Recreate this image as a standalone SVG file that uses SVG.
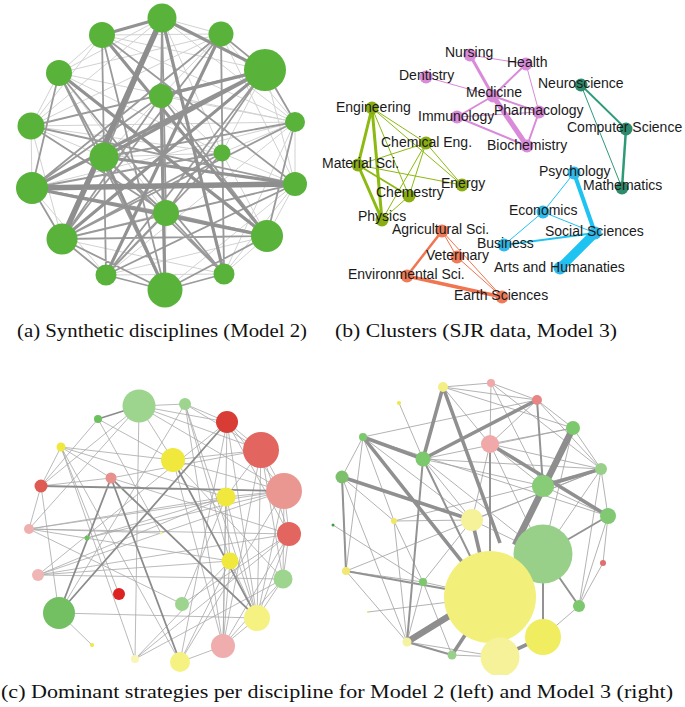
<svg xmlns="http://www.w3.org/2000/svg" width="685" height="707" viewBox="0 0 685 707">
<style>
.bg{fill:#fff}
.t1{stroke:#d2d2d2;stroke-width:1;fill:none}
.t2{stroke:#9a9a9a;stroke-width:1.8;fill:none}
.t3{stroke:#929292;stroke-width:3.2;fill:none}
.t4{stroke:#8e8e8e;stroke-width:5.5;fill:none}
.gn{fill:#59b33b}
.lb{font-family:"Liberation Sans",Arial,sans-serif;font-size:14px;fill:#1a1a1a}
.cap{font-family:"Liberation Serif","Times New Roman",serif;font-size:18.5px;fill:#111}
.pk{stroke:#d98ad8;fill:none}
.tl{stroke:#2e9a78;fill:none}
.yg{stroke:#8cba10;fill:none}
.cy{stroke:#1ec3f2;fill:none}
.or{stroke:#f07550;fill:none}
.e1{stroke:#a8a8a8;stroke-width:0.8;fill:none}
.e2{stroke:#8c8c8c;stroke-width:1.8;fill:none}
.r1{stroke:#a0a0a0;stroke-width:0.8;fill:none}
.r2{stroke:#939393;stroke-width:2;fill:none}
.r3{stroke:#909090;stroke-width:3.6;fill:none}
.r4{stroke:#8e8e8e;stroke-width:6.5;fill:none}
</style>
<defs>
<clipPath id="clipR"><rect x="320" y="370" width="365" height="305"/></clipPath>
</defs>
<rect class="bg" x="0" y="0" width="685" height="707"/>

<!-- (a) synthetic disciplines -->
<g id="a-edges">
<path class="t1" d="M162,18L221,34M162,18L59,73M162,18L31,126M162,18L295,122M162,18L222,153M102,35L221,34M102,35L265,70M102,35L31,126M102,35L295,122M221,34L59,73M221,34L161,96M221,34L31,126M221,34L295,122M221,34L222,153M221,34L295,184M265,70L222,153M265,70L295,184M59,73L31,126M59,73L295,122M59,73L222,153M161,96L295,122M161,96L222,153M161,96L104,157M31,126L295,122M31,126L104,157M31,126L222,153M295,122L295,184M295,122L32,188M295,122L222,153M295,122L106,275M295,122L224,274M104,157L222,153M222,153L295,184M222,153L267,236M222,153L224,274M32,188L106,275M295,184L224,274M295,184L165,290M166,213L62,239M166,213L165,290M62,239L224,274M267,236L106,275M106,275L224,274M31,126L62,239M59,73L166,213M102,35L59,73M31,126L32,188M267,236L224,274M295,184L267,236"/>
<path class="t2" d="M162,18L161,96M162,18L104,157M162,18L166,213M102,35L104,157M102,35L295,184M102,35L165,290M221,34L265,70M221,34L32,188M221,34L62,239M221,34L224,274M265,70L295,122M265,70L31,126M265,70L166,213M265,70L106,275M59,73L104,157M59,73L32,188M59,73L165,290M59,73L224,274M161,96L62,239M161,96L267,236M161,96L32,188M31,126L166,213M31,126L295,184M295,122L62,239M295,122L104,157M104,157L166,213M104,157L106,275M104,157L224,274M222,153L62,239M222,153L106,275M222,153L32,188M32,188L62,239M32,188L166,213M295,184L62,239M295,184L106,275M166,213L267,236M166,213L224,274M62,239L106,275M62,239L165,290M62,239L267,236M224,274L165,290M267,236L165,290M106,275L165,290M106,275L166,213M267,236L295,122"/>
<path class="t3" d="M162,18L265,70M162,18L102,35M161,96L165,290M104,157L165,290M265,70L62,239M162,18L224,274M59,73L267,236M265,70L32,188M102,35L267,236M104,157L295,184M265,70L161,96M221,34L106,275M265,70L104,157M32,188L267,236"/>
<path class="t4" d="M32,188L295,184M162,18L62,239"/>
</g>
<g id="a-nodes">
<circle class="gn" cx="162" cy="18" r="14.5"/>
<circle class="gn" cx="102" cy="35" r="13"/>
<circle class="gn" cx="221" cy="34" r="12.5"/>
<circle class="gn" cx="265" cy="70" r="21"/>
<circle class="gn" cx="59" cy="73" r="13"/>
<circle class="gn" cx="161" cy="96" r="12"/>
<circle class="gn" cx="31" cy="126" r="13.5"/>
<circle class="gn" cx="295" cy="122" r="10"/>
<circle class="gn" cx="104" cy="157" r="14.5"/>
<circle class="gn" cx="222" cy="153" r="8.5"/>
<circle class="gn" cx="32" cy="188" r="16"/>
<circle class="gn" cx="295" cy="184" r="12"/>
<circle class="gn" cx="166" cy="213" r="13"/>
<circle class="gn" cx="62" cy="239" r="15.5"/>
<circle class="gn" cx="267" cy="236" r="16"/>
<circle class="gn" cx="106" cy="275" r="10.5"/>
<circle class="gn" cx="224" cy="274" r="10.5"/>
<circle class="gn" cx="165" cy="290" r="17.5"/>
</g>

<!-- (b) clusters -->
<g id="b-edges">
<path class="pk" stroke-width="1" d="M470,55L526,64M426,77L493,96M526,64L539,112M457,117L539,112"/>
<path class="pk" stroke-width="2" d="M526,64L493,96M493,96L457,117M493,96L539,112M457,117L527,146M539,112L527,146"/>
<path class="pk" stroke-width="3" d="M470,55L493,96"/>
<path class="pk" stroke-width="5" d="M493,96L527,146"/>
<path class="tl" stroke-width="1" d="M581,85L622,188"/>
<path class="tl" stroke-width="1.8" d="M581,85L626,129"/>
<path class="tl" stroke-width="2.5" d="M626,129L622,188"/>
<path class="yg" stroke-width="1" d="M372,108L426,143M372,108L462,185M426,143L358,165M426,143L462,185M426,143L409,196M426,143L382,220M409,196L382,220M358,165L462,185M372,108L409,196"/>
<path class="yg" stroke-width="1.8" d="M358,165L409,196"/>
<path class="yg" stroke-width="3" d="M372,108L358,165M372,108L382,220M358,165L382,220"/>
<path class="cy" stroke-width="1" d="M574,173L543,212M543,212L504,245M543,212L595,233"/>
<path class="cy" stroke-width="2" d="M504,245L595,233"/>
<path class="cy" stroke-width="4" d="M574,173L595,233"/>
<path class="cy" stroke-width="9" d="M595,233L560,268"/>
<path class="or" stroke-width="1" d="M442,231L457,257M442,231L502,297M457,257L502,297"/>
<path class="or" stroke-width="2.5" d="M442,231L407,276"/>
<path class="or" stroke-width="3.5" d="M407,276L502,297"/>
</g>
<g id="b-nodes">
<g fill="#d98ad8">
<circle cx="470" cy="55" r="6.5"/><circle cx="526" cy="64" r="6.5"/><circle cx="426" cy="77" r="6.5"/><circle cx="493" cy="96" r="6.5"/><circle cx="539" cy="112" r="6.5"/><circle cx="457" cy="117" r="6.5"/><circle cx="527" cy="146" r="6.5"/>
</g>
<g fill="#2e8a6c">
<circle cx="581" cy="85" r="6.5"/><circle cx="626" cy="129" r="6.5"/><circle cx="622" cy="188" r="6.5"/>
</g>
<g fill="#8aad12">
<circle cx="372" cy="108" r="6.5"/><circle cx="426" cy="143" r="6.5"/><circle cx="358" cy="165" r="6.5"/><circle cx="462" cy="185" r="6.5"/><circle cx="409" cy="196" r="6.5"/><circle cx="382" cy="220" r="6.5"/>
</g>
<g fill="#2fb8ea">
<circle cx="574" cy="173" r="6.5"/><circle cx="543" cy="212" r="6.5"/><circle cx="595" cy="233" r="6.5"/><circle cx="504" cy="245" r="6.5"/><circle cx="560" cy="268" r="6.5"/>
</g>
<g fill="#f07a58">
<circle cx="442" cy="231" r="6.5"/><circle cx="457" cy="257" r="6.5"/><circle cx="407" cy="276" r="6.5"/><circle cx="502" cy="297" r="6.5"/>
</g>
</g>
<g id="b-labels">
<text class="lb" x="445" y="57">Nursing</text>
<text class="lb" x="507" y="67">Health</text>
<text class="lb" x="399" y="80">Dentistry</text>
<text class="lb" x="466" y="97">Medicine</text>
<text class="lb" x="538" y="88">Neuroscience</text>
<text class="lb" x="494" y="115">Pharmacology</text>
<text class="lb" x="418" y="121">Immunology</text>
<text class="lb" x="336" y="112">Engineering</text>
<text class="lb" x="567" y="132">Computer Science</text>
<text class="lb" x="487" y="150">Biochemistry</text>
<text class="lb" x="381" y="147">Chemical Eng.</text>
<text class="lb" x="322" y="168">Material Sci.</text>
<text class="lb" x="539" y="176">Psychology</text>
<text class="lb" x="583" y="190">Mathematics</text>
<text class="lb" x="441" y="188">Energy</text>
<text class="lb" x="376" y="197">Chemestry</text>
<text class="lb" x="509" y="215">Economics</text>
<text class="lb" x="358" y="221">Physics</text>
<text class="lb" x="392" y="234">Agricultural Sci.</text>
<text class="lb" x="545" y="236">Social Sciences</text>
<text class="lb" x="477" y="248">Business</text>
<text class="lb" x="426" y="260">Veterinary</text>
<text class="lb" x="494" y="272">Arts and Humanaties</text>
<text class="lb" x="348" y="279">Environmental Sci.</text>
<text class="lb" x="454" y="300">Earth Sciences</text>
</g>

<text class="cap" x="17" y="337" textLength="290" lengthAdjust="spacingAndGlyphs">(a) Synthetic disciplines (Model 2)</text>
<text class="cap" x="335" y="337" textLength="282" lengthAdjust="spacingAndGlyphs">(b) Clusters (SJR data, Model 3)</text>

<!-- (c) left -->
<g id="cl-edges">
<path class="e1" d="M139,406L185,404M139,406L227,422M139,406L261,450M139,406L173,460M139,406L41,486M139,406L135,659M139,406L284,491M185,404L227,422M185,404L261,450M185,404L230,561M185,404L223,646M185,404L257,618M98,419L173,460M227,422L261,450M227,422L223,646M227,422L257,618M227,422L289,534M227,422L284,491M227,422L38,575M227,422L180,662M261,450L284,491M261,450L289,534M261,450L283,579M261,450L226,497M261,450L173,460M261,450L257,618M261,450L223,646M61,447L111,478M61,447L41,486M61,447L119,594M61,447L173,460M61,447L180,662M61,447L226,497M61,447L135,659M173,460L283,579M173,460L223,646M173,460L284,491M111,478L41,486M111,478L289,534M111,478L261,450M41,486L59,613M41,486L29,529M41,486L98,419M284,491L38,575M284,491L29,529M284,491L289,534M284,491L283,579M284,491L180,662M284,491L257,618M284,491L226,497M226,497L223,646M226,497L29,529M226,497L230,561M226,497L182,604M226,497L257,618M29,529L161,533M29,529L289,534M29,529L182,604M29,529L230,561M289,534L38,575M289,534L283,579M289,534L257,618M289,534L135,659M289,534L182,604M87,538L226,497M87,538L284,491M230,561L223,646M230,561L180,662M230,561L257,618M230,561L38,575M230,561L135,659M38,575L283,579M38,575L226,497M283,579L257,618M283,579L223,646M59,613L92,645M59,613L257,618M257,618L223,646M223,646L180,662M98,419L161,533M185,404L59,613M139,406L29,529M283,579L135,659M289,534L223,646"/>
<path class="e2" d="M41,486L284,491M111,478L257,618M173,460L257,618M227,422L59,613M98,419L139,406M111,478L180,662M111,478L59,613"/>
</g>
<g id="cl-nodes">
<circle cx="139" cy="406" r="16.5" fill="#9dd48e"/>
<circle cx="185" cy="404" r="6" fill="#9dd48e"/>
<circle cx="98" cy="419" r="4" fill="#6cc05e"/>
<circle cx="227" cy="422" r="11" fill="#d93c34"/>
<circle cx="261" cy="450" r="18" fill="#e2655f"/>
<circle cx="61" cy="447" r="4.5" fill="#f0e83c"/>
<circle cx="173" cy="460" r="12" fill="#f0e83c"/>
<circle cx="111" cy="478" r="5.5" fill="#e8908c"/>
<circle cx="41" cy="486" r="6.5" fill="#df5a52"/>
<circle cx="284" cy="491" r="18" fill="#ea9792"/>
<circle cx="226" cy="497" r="9.5" fill="#f0e83c"/>
<circle cx="29" cy="529" r="5" fill="#f0afaf"/>
<circle cx="161" cy="533" r="1.5" fill="#f5f2a0"/>
<circle cx="289" cy="534" r="12" fill="#e2655f"/>
<circle cx="87" cy="538" r="2.5" fill="#6cc05e"/>
<circle cx="230" cy="561" r="8.5" fill="#f0e83c"/>
<circle cx="38" cy="575" r="6" fill="#f0b5b5"/>
<circle cx="283" cy="579" r="9.5" fill="#9dd48e"/>
<circle cx="119" cy="594" r="6" fill="#dd2222"/>
<circle cx="182" cy="604" r="7" fill="#9dd48e"/>
<circle cx="59" cy="613" r="16" fill="#72c062"/>
<circle cx="257" cy="618" r="13" fill="#f5f282"/>
<circle cx="92" cy="645" r="2" fill="#f0e83c"/>
<circle cx="223" cy="646" r="12" fill="#f0adad"/>
<circle cx="135" cy="659" r="4" fill="#f8f5b5"/>
<circle cx="180" cy="662" r="10" fill="#f5f282"/>
</g>

<!-- (c) right -->
<g clip-path="url(#clipR)">
<g id="cr-edges">
<path class="r1" d="M443,387L491,383M443,387L537,400M491,383L537,400M491,383L543,486M491,383L601,469M537,400L573,428M537,400L601,469M537,400L490,444M399,403L423,459M363,437L423,459M363,437L342,477M363,437L394,521M363,437L472,520M363,437L346,571M573,428L490,444M573,428L601,469M573,428L423,459M490,444L601,469M490,444L472,520M490,444L543,486M490,444L543,554M423,459L601,469M423,459L472,520M423,459L543,486M601,469L608,516M601,469L472,520M601,469L543,554M342,477L394,521M342,477L346,571M342,477L472,520M342,477L407,642M543,486L608,516M608,516L603,563M608,516L579,606M394,521L472,520M472,520L423,582M394,521L423,582M394,521L407,642M333,525L423,582M603,563L579,606M346,571L423,582M346,571L407,642M423,582L490,597M423,582L407,642M423,582L452,655M579,606L543,637M579,606L601,469M368,612L490,597M407,642L500,657M452,655L500,657M423,459L543,554M573,428L543,554M443,387L490,444M491,383L490,444M472,520L543,554M394,521L601,469M346,571L601,469M363,437L608,516M443,387L573,428M537,400L363,437"/>
<path class="r2" d="M423,459L490,597M423,459L407,642M407,642L452,655M579,606L543,554M608,516L543,554M543,554L543,637M490,444L490,597M537,400L543,486M346,571L490,597M363,437L363,437M342,477L346,571"/>
<path class="r3" d="M443,387L423,459M443,387L500,543M537,400L423,459M363,437L490,597M342,477L472,520M472,520L490,597M490,444L608,516M543,486L601,469M452,655L490,597M500,657L543,637M363,437L423,459"/>
<path class="r4" d="M573,428L515,545M407,642L475,600"/>
</g>
<g id="cr-nodes">
<circle cx="443" cy="387" r="5" fill="#f3ef85"/>
<circle cx="491" cy="383" r="4" fill="#f0a8a8"/>
<circle cx="537" cy="400" r="5" fill="#e88585"/>
<circle cx="399" cy="403" r="2" fill="#f0e840"/>
<circle cx="573" cy="428" r="7" fill="#7cc86c"/>
<circle cx="363" cy="437" r="4" fill="#7cc86c"/>
<circle cx="490" cy="444" r="9" fill="#f0a8a8"/>
<circle cx="423" cy="459" r="7.5" fill="#7cc86c"/>
<circle cx="601" cy="469" r="6" fill="#98d08a"/>
<circle cx="342" cy="477" r="6.5" fill="#7cc06c"/>
<circle cx="543" cy="486" r="11" fill="#88cc78"/>
<circle cx="608" cy="516" r="8" fill="#80c872"/>
<circle cx="472" cy="520" r="11" fill="#f5f29a"/>
<circle cx="394" cy="521" r="3" fill="#f0e860"/>
<circle cx="333" cy="525" r="1.5" fill="#3aa03a"/>
<circle cx="543" cy="554" r="29.5" fill="#98d08a"/>
<circle cx="603" cy="563" r="3" fill="#e07070"/>
<circle cx="346" cy="571" r="4" fill="#f0e870"/>
<circle cx="423" cy="582" r="4" fill="#7cc86c"/>
<circle cx="490" cy="597" r="46" fill="#f2f07a"/>
<circle cx="579" cy="606" r="6" fill="#7cc86c"/>
<circle cx="368" cy="612" r="1" fill="#f0e840"/>
<circle cx="543" cy="637" r="18" fill="#f0ee60"/>
<circle cx="407" cy="642" r="4.5" fill="#f5f2a0"/>
<circle cx="452" cy="655" r="4.5" fill="#98d08a"/>
<circle cx="500" cy="657" r="19.5" fill="#f5f29a"/>
</g>
</g>

<text class="cap" x="1" y="698" textLength="672" lengthAdjust="spacingAndGlyphs">(c) Dominant strategies per discipline for Model 2 (left) and Model 3 (right)</text>
</svg>
